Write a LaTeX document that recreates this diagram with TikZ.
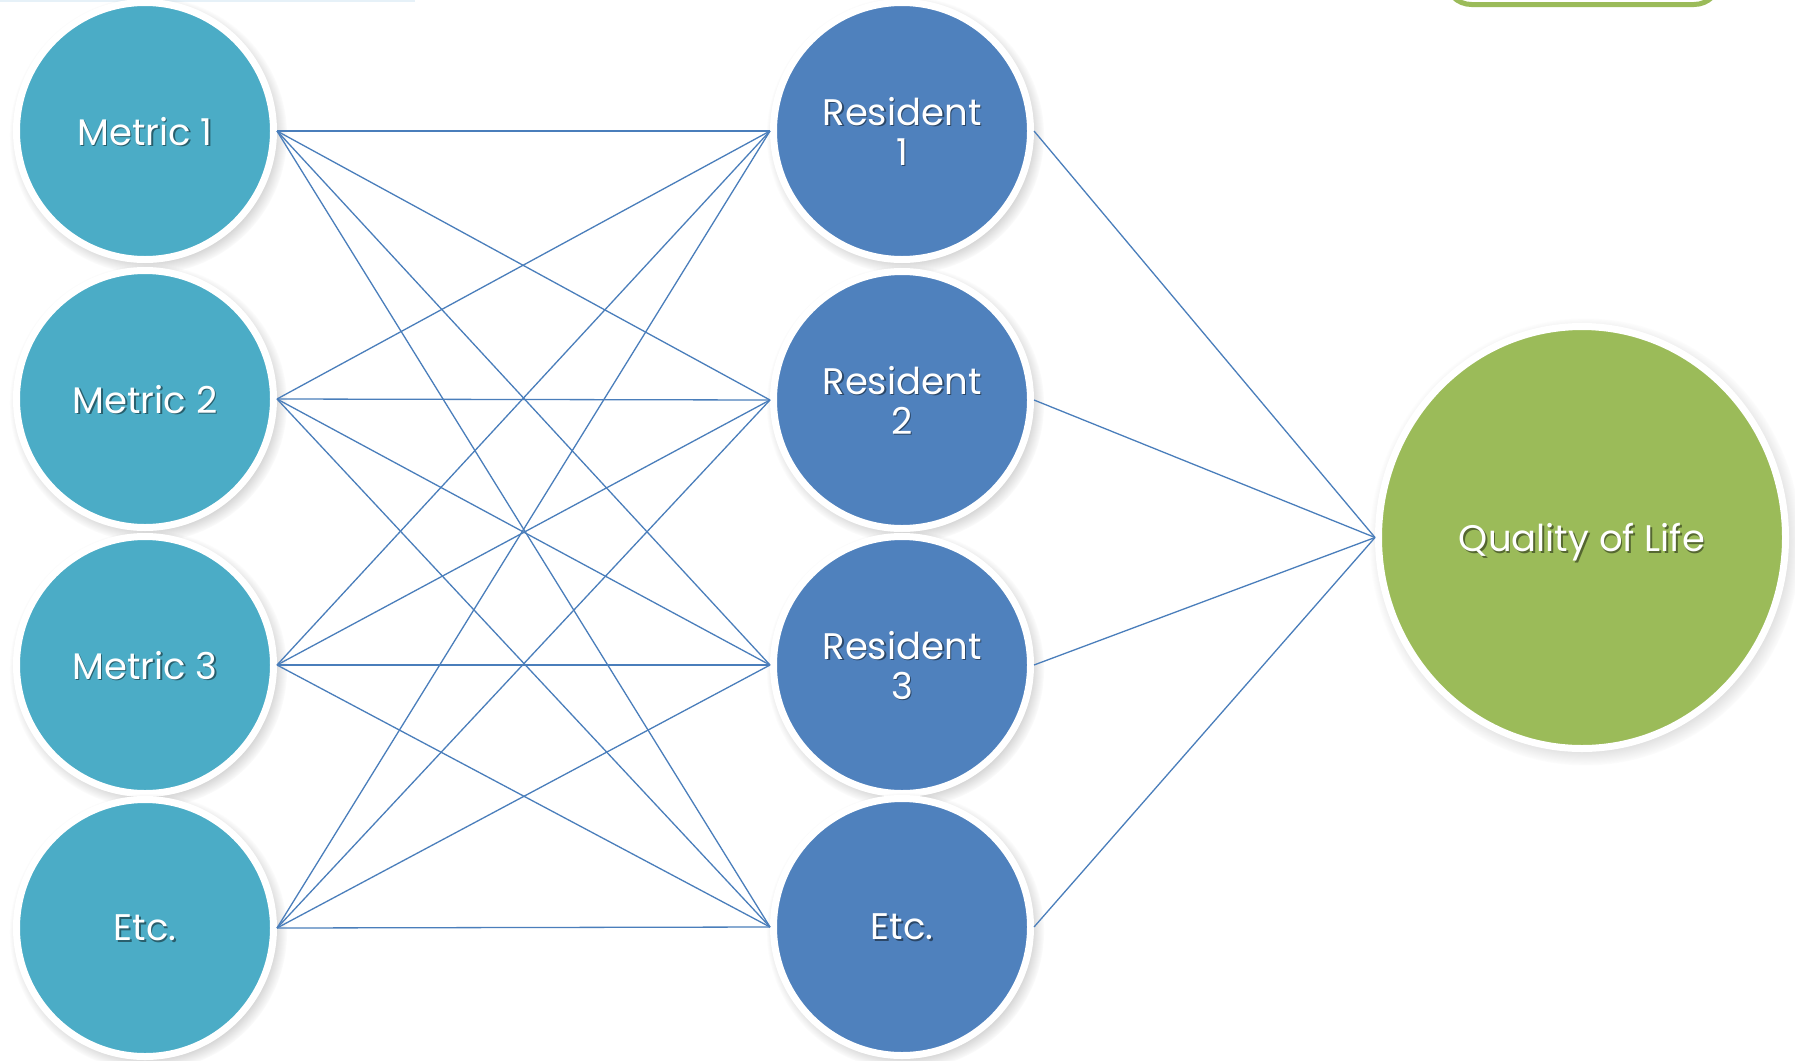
\documentclass[tikz,border=0pt]{standalone}
\usepackage{fontspec}
\setmainfont{Poppins}
\usetikzlibrary{shapes.geometric,shadows,fadings}

\definecolor{metricc}{HTML}{4BACC6}
\definecolor{residc}{HTML}{4F81BD}
\definecolor{qolc}{HTML}{9BBB59}
\definecolor{linkc}{HTML}{4A7EBB}
\definecolor{topband}{HTML}{E6F1F8}

\newcommand\shtxt[2]{\makebox[0pt][l]{\kern1.6pt\raisebox{-1.6pt}{\textcolor{#1}{#2}}}#2}

\begin{document}
\begin{tikzpicture}[x=1pt,y=-1pt,
  bubble/.style={circle, draw=white, line width=7pt, inner sep=0pt,
    minimum size=257pt, text=white, font=\fontsize{37}{40}\selectfont,
    align=center, text depth=0pt,
    circular drop shadow={shadow xshift=3pt, shadow yshift=-4pt,
      shadow scale=1.08, opacity=0.5}},
  metricnode/.style={bubble, fill=metricc},
  residnode/.style={bubble, fill=residc},
  qolnode/.style={ellipse, draw=white, line width=7pt, inner sep=0pt,
    minimum width=407pt, minimum height=422pt, fill=qolc, text=white,
    font=\fontsize{37}{40}\selectfont, text depth=0pt,
    circular drop shadow={shadow xshift=3pt, shadow yshift=-4pt,
      shadow scale=1.06, opacity=0.5}},
  link/.style={draw=linkc, line width=1.3pt}
]
\useasboundingbox (0,0) rectangle (1795,1060);
\clip (0,0) rectangle (1795,1060);
\fill[white] (0,0) rectangle (1795,1060);

% decorative fragments at the top edge
\fill[topband] (0,0) rectangle (415,2);
\draw[qolc, line width=5pt, rounded corners=26pt] (1445.5,-80) rectangle (1720,4.5);

% metric column
\node[metricnode] (m1) at (145,131) {\shtxt{metricc!55!black}{Metric 1}};
\node[metricnode] (m2) at (145,399) {\shtxt{metricc!55!black}{Metric 2}};
\node[metricnode] (m3) at (145,665) {\shtxt{metricc!55!black}{Metric 3}};
\node[metricnode] (m4) at (145,928) {\shtxt{metricc!55!black}{Etc.}};

% resident column
\node[residnode] (r1) at (902,131) {\shtxt{residc!55!black}{Resident}\\\shtxt{residc!55!black}{1}};
\node[residnode] (r2) at (902,400) {\shtxt{residc!55!black}{Resident}\\\shtxt{residc!55!black}{2}};
\node[residnode] (r3) at (902,665) {\shtxt{residc!55!black}{Resident}\\\shtxt{residc!55!black}{3}};
\node[residnode] (r4) at (902,927) {\shtxt{residc!55!black}{Etc.}};

% outcome
\node[qolnode] (q) at (1582,537.5) {\shtxt{qolc!55!black}{Quality of Life}};

% connectors
\foreach \i in {1,...,4}{
  \foreach \j in {1,...,4}{
    \draw[link] (m\i.east) -- (r\j.west);
  }
}
\foreach \j in {1,...,4}{
  \draw[link] (r\j.east) -- (q.west);
}
\end{tikzpicture}
\end{document}
